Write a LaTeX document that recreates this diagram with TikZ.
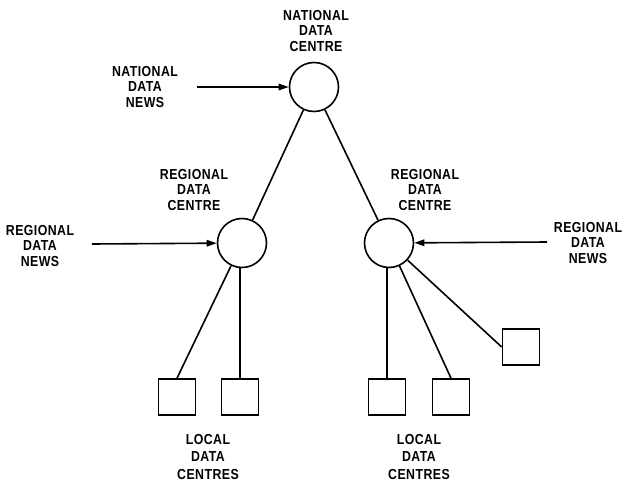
\documentclass[tikz,border=0pt]{standalone}
\usepackage{fontspec}
\setmainfont{Liberation Sans}[FakeStretch=0.85,LetterSpace=3]
\usetikzlibrary{arrows.meta}
\tikzset{
  centre/.style={circle, draw, line width=1.6pt, minimum size=49pt, inner sep=0pt},
  local/.style={rectangle, draw, line width=1.6pt, minimum width=37pt, minimum height=36pt, inner sep=0pt},
  lbl/.style={align=center, inner sep=0pt, font=\fontsize{14.5}{15.8}\selectfont\bfseries},
  lbllocal/.style={align=center, inner sep=0pt, font=\fontsize{14.5}{17.5}\selectfont\bfseries},
  link/.style={line width=1.6pt},
  arr/.style={line width=1.6pt, -{Triangle[length=10pt,width=6.5pt]}}
}
\begin{document}
\begin{tikzpicture}[x=1pt,y=-1pt]
\useasboundingbox (0,0) rectangle (625,485);
% centres
\node[centre] (n) at (314,87) {};
\node[centre] (r1) at (242,243) {};
\node[centre] (r2) at (389,243) {};
% local data centres
\node[local] (b1) at (177,397) {};
\node[local] (b2) at (240,397) {};
\node[local] (b3) at (387,397) {};
\node[local] (b4) at (451,397) {};
\node[local] (b5) at (521,347) {};
% labels
\node[lbl] (ln) at (316,31) {NATIONAL\\DATA\\CENTRE};
\node[lbl] (lnn) at (145,87) {NATIONAL\\DATA\\NEWS};
\node[lbl] (lr1) at (194,190) {REGIONAL\\DATA\\CENTRE};
\node[lbl] (lr2) at (425,190) {REGIONAL\\DATA\\CENTRE};
\node[lbl] (lrn1) at (40,246) {REGIONAL\\DATA\\NEWS};
\node[lbl] (lrn2) at (588,243) {REGIONAL\\DATA\\NEWS};
\node[lbllocal] (ll1) at (208,457) {LOCAL\\DATA\\CENTRES};
\node[lbllocal] (ll2) at (419,457) {LOCAL\\DATA\\CENTRES};
% arrow tails
\coordinate (ann) at (197,87);
\coordinate (arn1) at (92,244);
\coordinate (arn2) at (547,242);
% arrows
\draw[arr] (ann) -- (n);
\draw[arr] (arn1) -- (r1);
\draw[arr] (arn2) -- (r2);
% links
\draw[link] (n) -- (r1);
\draw[link] (n) -- (r2);
\draw[link] (r1) -- (b1.north);
\draw[link] (r1.south -| b2.north) -- (b2.north);
\draw[link] (r2.south -| b3.north) -- (b3.north);
\draw[link] (r2) -- (b4.north);
\draw[link] (r2) -- (b5.west);
\end{tikzpicture}
\end{document}
